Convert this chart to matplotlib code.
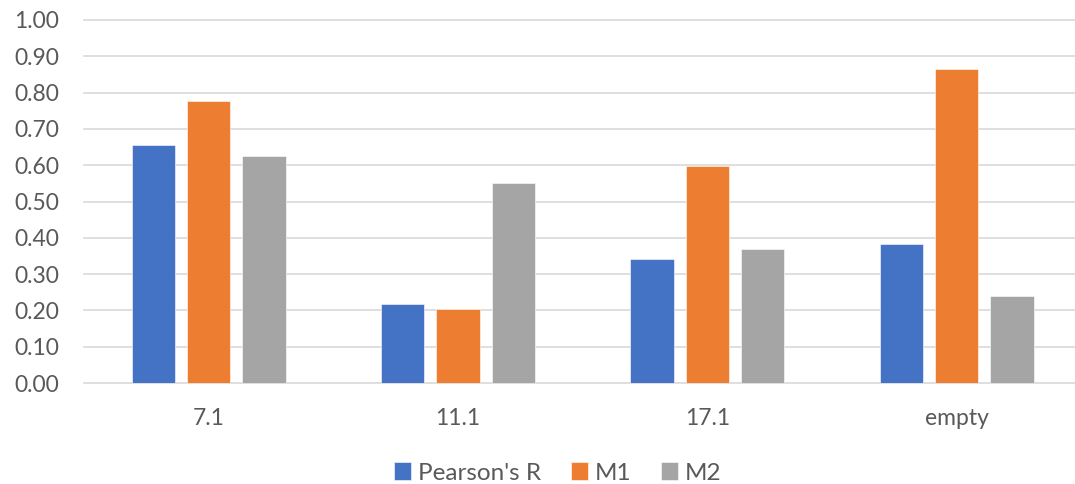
import matplotlib
matplotlib.use('Agg')
import numpy as np
import matplotlib.pyplot as plt

categories = ["7.1", "11.1", "17.1", "empty"]
series_names = ["Pearson's R", "M1", "M2"]
pearson_r = [0.656, 0.217, 0.342, 0.382]
m1 = [0.776, 0.203, 0.598, 0.866]
m2 = [0.625, 0.550, 0.370, 0.239]
colors = ["#4472C4", "#ED7D31", "#A5A5A5"]
yticks = np.arange(0, 1.01, 0.1)

plt.rcParams['font.family'] = ['Lato', 'DejaVu Sans']
text_color = "#595959"
grid_color = "#D9D9D9"

fig = plt.figure(figsize=(10.75, 4.84), dpi=100)
W, H = 1075, 484
ax = fig.add_axes([84 / W, (H - 383) / H, (W - 84) / W, 363 / H])

x = np.arange(len(categories))
width = 0.174
step = 0.222
handles = []
for i, (vals, name) in enumerate(zip([pearson_r, m1, m2], series_names)):
    b = ax.bar(x + (i - 1) * step, vals, width, color=colors[i], label=name,
               edgecolor="white", linewidth=0.4, zorder=3)
    handles.append(b)

ax.set_xlim(-0.5, -0.5 + (W - 84) / 249.3)
ax.set_ylim(0, 1.0)
ax.set_yticks(yticks)
ax.set_yticklabels([f"{v:.2f}" for v in yticks])
ax.set_xticks(x)
ax.set_xticklabels(categories)
ax.tick_params(axis='both', length=0, labelsize=16.5, colors=text_color)
ax.tick_params(axis='y', pad=18)
ax.tick_params(axis='x', pad=18)
for spine in ax.spines.values():
    spine.set_visible(False)
for v in yticks:
    ax.axhline(v, color=grid_color, linewidth=1.2, zorder=1, clip_on=False)

fig.legend(handles=handles, labels=series_names, loc='center',
           bbox_to_anchor=(558 / W, 1 - 473 / H), ncol=3, frameon=False,
           fontsize=17.5, handlelength=0.7, handleheight=0.7,
           handletextpad=0.3, columnspacing=1.2, labelcolor=text_color)

fig.savefig("out.png", dpi=100)
